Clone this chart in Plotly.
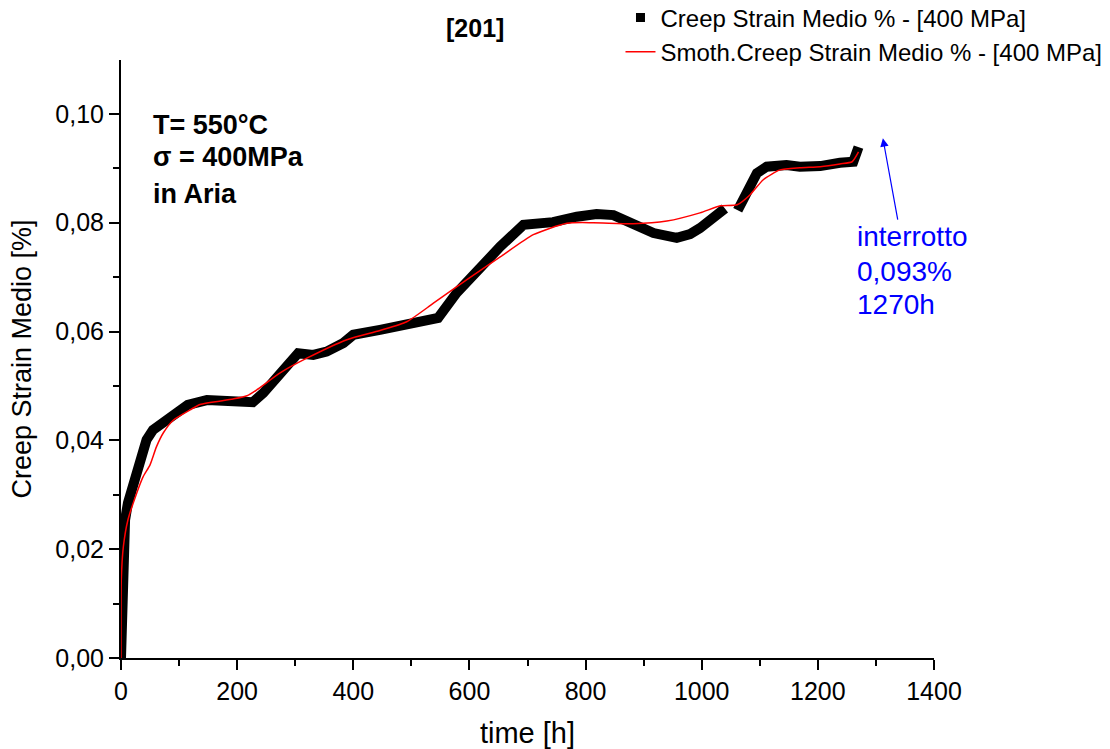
import plotly.graph_objects as go

# Measured creep strain (thick black), gap marks missing acquisition
time_h = [0, 3, 7, 12, 24, 36, 44, 55, 76, 96, 115, 148, 182, 200, 227, 245, 268, 286,
          305, 331, 354, 383, 400, 446, 492, 546, 578, 618, 653, 693, 744, 785, 819,
          848, 877, 917, 957, 980, 997, 1032, 1040, None, 1062, 1095, 1112, 1146, 1169,
          1204, 1238, 1261, 1267, 1270]
strain = [0.0, 0.0193, 0.0254, 0.0285, 0.0327, 0.0377, 0.0401, 0.0419, 0.0437, 0.0452,
          0.0465, 0.0474, 0.0473, 0.0470, 0.0470, 0.0487, 0.0517, 0.0542, 0.0560, 0.0557,
          0.0563, 0.0579, 0.0594, 0.0603, 0.0612, 0.0625, 0.0671, 0.0719, 0.0756, 0.0796,
          0.0801, 0.0811, 0.0816, 0.0814, 0.0800, 0.0781, 0.0772, 0.0779, 0.0790, 0.0818,
          0.0826, None, 0.0823, 0.0891, 0.0903, 0.0906, 0.0903, 0.0904, 0.0910, 0.0912,
          0.0930, 0.0939]

# Smoothed curve (red)
time_s = [0, 0.5, 4, 12, 27, 38, 50, 61, 73, 90, 119, 136, 193, 217, 234, 274, 320, 389,
          446, 492, 538, 595, 653, 710, 768, 813, 882, 940, 997, 1032, 1061, 1083, 1106,
          1135, 1169, 1204, 1238, 1259, 1270]
strain_s = [0.0, 0.0143, 0.0204, 0.0254, 0.0303, 0.0333, 0.0355, 0.0388, 0.0414, 0.0437,
            0.0456, 0.0466, 0.0476, 0.0482, 0.0493, 0.0524, 0.0551, 0.0585, 0.0602, 0.0618,
            0.0652, 0.0695, 0.0737, 0.0778, 0.0799, 0.0800, 0.0798, 0.0803, 0.0818, 0.0831,
            0.0833, 0.0851, 0.0879, 0.0897, 0.0901, 0.0903, 0.0908, 0.0912, 0.0930]

name_raw = "Creep Strain Medio % - [400 MPa]"
name_smooth = "Smoth.Creep Strain Medio % - [400 MPa]"
cond_lines = ["T= 550°C", "σ = 400MPa", "in Aria"]
cond_y = [0.098, 0.0920, 0.0852]
cond_x = 52
note_lines = ["interrotto", "0,093%", "1270h"]
note_y = [0.0774, 0.0711, 0.0649]
note_x = 1264
arrow_head = (1312, 0.0955)
arrow_tail = (1338, 0.0803)

FONT = "Liberation Sans, Arial, sans-serif"

fig = go.Figure()
fig.add_trace(go.Scatter(x=time_h, y=strain, mode="lines", name=name_raw,
                         line=dict(color="black", width=10), showlegend=False,
                         connectgaps=False))
fig.add_trace(go.Scatter(x=[None], y=[None], mode="markers", name=name_raw,
                         marker=dict(symbol="square", size=9, color="black")))
fig.add_trace(go.Scatter(x=time_s, y=strain_s, mode="lines", name=name_smooth,
                         line=dict(color="#ff0000", width=1.5, shape="spline", smoothing=0.6)))

for txt, yy in zip(cond_lines, cond_y):
    fig.add_annotation(x=cond_x, y=yy, xref="x", yref="y", text=f"<b>{txt}</b>",
                       showarrow=False, xanchor="left", yanchor="middle",
                       font=dict(family=FONT, size=27, color="black"))
for txt, yy in zip(note_lines, note_y):
    fig.add_annotation(x=note_x, y=yy, xref="x", yref="y", text=txt,
                       showarrow=False, xanchor="left", yanchor="middle",
                       font=dict(family=FONT, size=28, color="#0000ff"))
fig.add_annotation(x=arrow_head[0], y=arrow_head[1], ax=arrow_tail[0], ay=arrow_tail[1],
                   xref="x", yref="y", axref="x", ayref="y", text="", showarrow=True,
                   arrowhead=2, arrowsize=1.4, arrowwidth=1.2, arrowcolor="#0000ff")
fig.add_annotation(x=0.4354, y=1.0535, xref="paper", yref="paper", text="<b>[201]</b>",
                   showarrow=False, xanchor="center", yanchor="middle",
                   font=dict(family=FONT, size=25, color="black"))

axis_common = dict(showline=True, linecolor="black", linewidth=2, ticks="outside",
                   ticklen=10, tickwidth=2, tickcolor="black", showgrid=False,
                   zeroline=False, mirror=False,
                   tickfont=dict(family=FONT, size=25, color="black"))

fig.update_xaxes(range=[0, 1400], dtick=200, tick0=0,
                 minor=dict(ticks="outside", ticklen=6, tickwidth=2, tickcolor="black", dtick=100),
                 title=dict(text="time [h]", font=dict(family=FONT, size=29, color="black"), standoff=20),
                 **axis_common)
fig.update_yaxes(range=[0, 0.1099], dtick=0.02, tick0=0, tickformat=".2f",
                 minor=dict(ticks="outside", ticklen=6, tickwidth=2, tickcolor="black", dtick=0.01),
                 title=dict(text="Creep Strain Medio [%]", font=dict(family=FONT, size=27, color="black"), standoff=16),
                 **axis_common)

fig.update_layout(
    width=1110, height=749,
    margin=dict(l=121, r=176, t=60, b=91, autoexpand=False),
    paper_bgcolor="white", plot_bgcolor="white",
    separators=", ",
    font=dict(family=FONT, color="black"),
    legend=dict(xref="container", yref="paper", x=0.559, y=1.108, xanchor="left", yanchor="top",
                font=dict(family=FONT, size=24, color="black"), bgcolor="rgba(0,0,0,0)",
                tracegroupgap=0, itemwidth=30),
)

fig.write_html("out.html")
